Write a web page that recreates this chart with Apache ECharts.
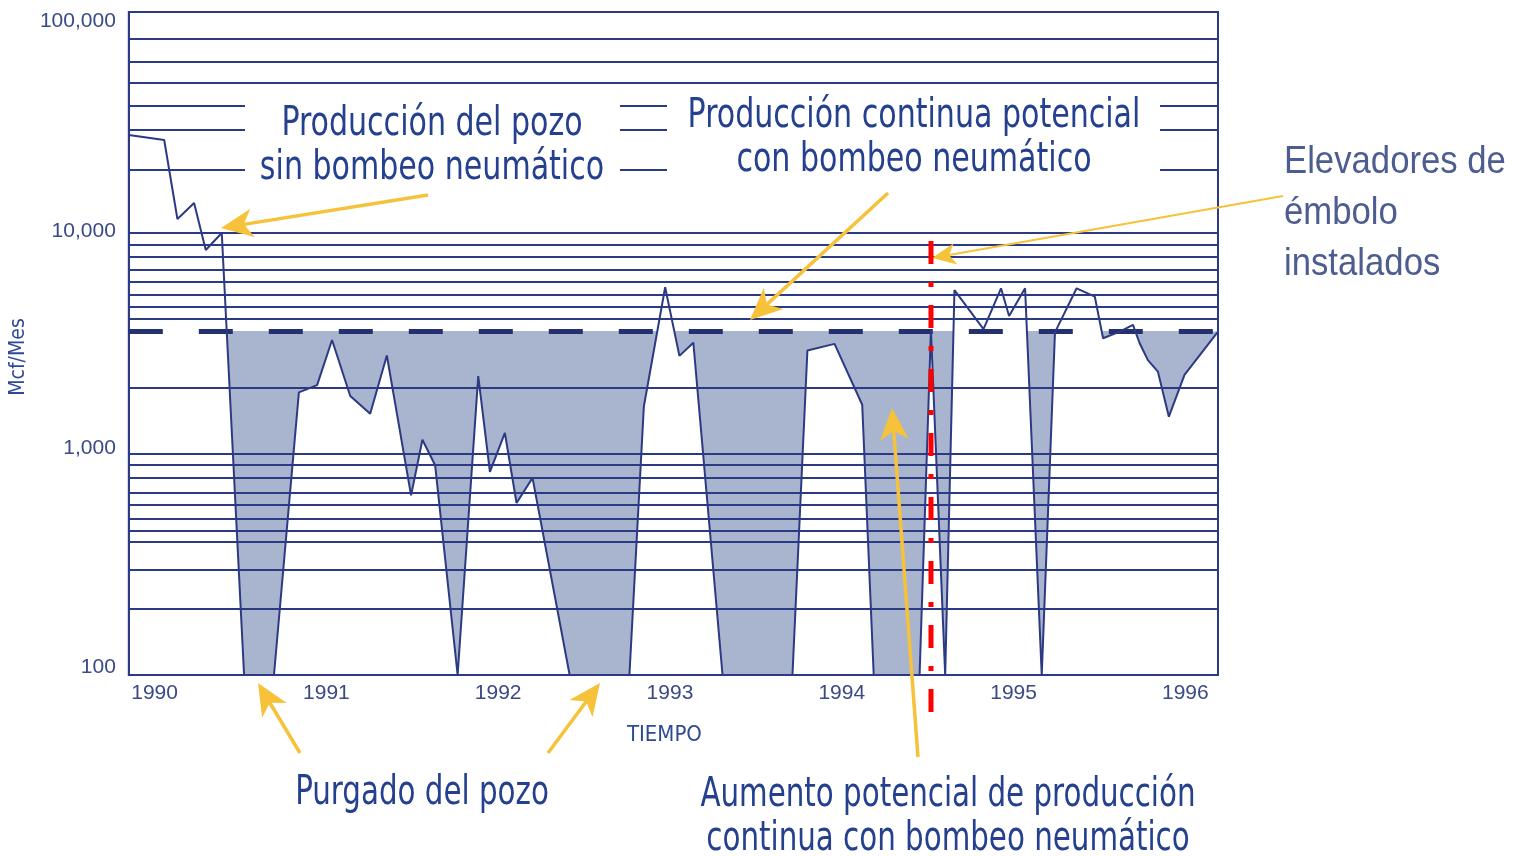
<!DOCTYPE html>
<html>
<head>
<meta charset="utf-8">
<script src="https://cdn.jsdelivr.net/npm/echarts@6/dist/echarts.min.js"></script>
<style>
  html, body { margin: 0; padding: 0; background: #fff; }
  #chart { width: 1519px; height: 856px; }
</style>
</head>
<body>
<div id="chart"></div>
<script>
// tiempo en años decimales y producción (Mcf/Mes)
const tiempo = [
  1989.85, 1990.056, 1990.133, 1990.230, 1990.298, 1990.391, 1990.521, 1990.695,
  1990.840, 1990.946, 1991.033, 1991.139, 1991.255, 1991.352, 1991.493, 1991.559,
  1991.633, 1991.764, 1991.884, 1991.952, 1992.039, 1992.107, 1992.200, 1992.416,
  1992.764, 1992.848, 1992.972, 1993.055, 1993.136, 1993.306, 1993.713, 1993.800,
  1993.958, 1994.119, 1994.186, 1994.453, 1994.519, 1994.602, 1994.656, 1994.825,
  1994.927, 1994.974, 1995.067, 1995.164, 1995.241, 1995.367, 1995.473, 1995.521,
  1995.618, 1995.695, 1995.734, 1995.782, 1995.840, 1995.904, 1995.995, 1996.19
];
const produccion = [
  27750, 26350, 11570, 13670, 8380, 10000, 100, 100,
  1900, 2050, 3280, 1830, 1520, 2790, 650, 1160,
  890, 100, 2250, 830, 1245, 600, 780, 100,
  100, 1640, 5680, 2780, 3190, 100, 100, 2940,
  3150, 1670, 100, 100, 3650, 100, 5520, 3670,
  5620, 4210, 5620, 100, 3550, 5620, 5150, 3340,
  3580, 3840, 3170, 2660, 2360, 1475, 2280, 3580
];
// producción continua potencial con bombeo neumático
const potencial = 3600;
const anios = [1990, 1991, 1992, 1993, 1994, 1995, 1996];
// líneas horizontales de la cuadrícula tal como están dibujadas
const lineasGuia = [
  200, 300, 400, 450, 510, 590, 670, 780, 890, 1000,
  2000, 4080, 4630, 5240, 6000, 6800, 7790, 8830, 10000,
  19300, 29200, 37500, 47700, 59400, 75500
];

const azul = '#2c3a84';
const relleno = '#a9b4cf';
const amarillo = '#f5c23a';
const textoAzul = '#24408f';
const etiqueta = '#3a4a85';
const condensada = '"DejaVu Sans Condensed", "Liberation Sans Narrow", sans-serif';
const normal = '"Liberation Sans", Arial, sans-serif';

const datos = tiempo.map((t, i) => [t, produccion[i]]);

// flecha amarilla: línea + punta
const flecha = (x1, y1, x2, y2, ancho, largo) => {
  const dx = x2 - x1, dy = y2 - y1;
  const d = Math.sqrt(dx * dx + dy * dy);
  const ux = dx / d, uy = dy / d;
  const nx = -uy, ny = ux;
  const w = largo * 0.45;
  const bx = x2 - ux * largo, by = y2 - uy * largo;
  const mx = x2 - ux * largo * 0.72, my = y2 - uy * largo * 0.72;
  return [
    { type: 'line', z: 60, shape: { x1: x1, y1: y1, x2: mx, y2: my },
      style: { stroke: amarillo, lineWidth: ancho } },
    { type: 'polygon', z: 60,
      shape: { points: [[x2, y2], [bx + nx * w, by + ny * w], [mx, my], [bx - nx * w, by - ny * w]] },
      style: { fill: amarillo } }
  ];
};

// texto estrecho: se escala en horizontal
const texto = (t, x, y, size, opts, escala) => ({
  type: 'text', z: 70, x: x, y: y, scaleX: escala || 0.815,
  style: Object.assign({
    text: t, x: 0, y: 0, fontSize: size, fontFamily: condensada, fill: textoAzul,
    align: 'center', verticalAlign: 'middle', lineHeight: 44
  }, opts || {})
});

const chart = echarts.init(document.getElementById('chart'));

const desplazamiento = { 100: [0, 0, 16, 0], 1000: [0, 0, 12, 0], 10000: [0, 0, 4, 0], 100000: [18, 0, 0, 0] };

const option = {
  backgroundColor: '#fff',
  animation: false,
  grid: { left: 126, right: 301, top: 12, bottom: 181, show: true, borderColor: azul, borderWidth: 2 },
  xAxis: {
    type: 'value', min: 1989.85, max: 1996.19,
    name: 'TIEMPO', nameLocation: 'middle', nameGap: 49,
    nameTextStyle: { fontFamily: condensada, fontSize: 22, color: '#2f4a95', padding: [0, 18, 0, 0] },
    axisLine: { lineStyle: { color: azul, width: 2 } },
    axisTick: { show: false },
    splitLine: { show: false },
    axisLabel: {
      customValues: anios, margin: 8, fontFamily: normal, fontSize: 21, color: etiqueta,
      formatter: v => String(v)
    }
  },
  yAxis: {
    type: 'log', logBase: 10, min: 100, max: 100000,
    name: 'Mcf/Mes', nameLocation: 'middle', nameGap: 89,
    nameTextStyle: { fontFamily: condensada, fontSize: 21, color: '#2f4a95', padding: [0, 27, 0, 0] },
    axisLine: { lineStyle: { color: azul, width: 2 } },
    axisTick: { show: false },
    splitLine: { show: false },
    axisLabel: {
      margin: 13, fontFamily: normal, fontSize: 21, color: etiqueta,
      formatter: v => {
        const n = Math.round(v);
        return '{p' + n + '|' + n.toLocaleString('en-US') + '}';
      },
      rich: Object.fromEntries(Object.keys(desplazamiento).map(k => [
        'p' + k, { fontFamily: normal, fontSize: 21, color: etiqueta, padding: desplazamiento[k] }
      ]))
    }
  },
  visualMap: {
    show: false, type: 'piecewise', seriesIndex: 0, dimension: 1,
    pieces: [
      { gte: 1, lt: potencial, color: relleno },
      { gte: potencial, lte: 1000000, color: 'rgba(255,255,255,0)' }
    ],
    outOfRange: { color: 'rgba(255,255,255,0)' }
  },
  series: [
    {
      name: 'Aumento potencial de producción',
      type: 'line', data: datos, z: 2,
      showSymbol: false, symbol: 'none',
      lineStyle: { width: 0, opacity: 0 },
      areaStyle: { origin: potencial, opacity: 1 },
      markLine: {
        silent: true, symbol: 'none', z: 5,
        label: { show: false },
        lineStyle: { color: azul, width: 2, type: 'solid' },
        data: lineasGuia.map(v => ({ yAxis: v }))
      }
    },
    {
      name: 'Producción continua potencial',
      type: 'line', data: [], z: 7,
      markLine: {
        silent: true, symbol: 'none', z: 7,
        label: { show: false },
        lineStyle: { color: '#25306e', width: 5, type: [34, 36] },
        data: [{ yAxis: potencial }]
      }
    },
    {
      name: 'Producción del pozo',
      type: 'line', data: datos, z: 8,
      showSymbol: false, symbol: 'none',
      lineStyle: { color: azul, width: 2 }
    }
  ],
  graphic: [
    { type: 'rect', z: 50, shape: { x: 245, y: 92, width: 375, height: 100 }, style: { fill: '#fff' } },
    { type: 'rect', z: 50, shape: { x: 667, y: 90, width: 493, height: 96 }, style: { fill: '#fff' } },
    texto('Producción del pozo\nsin bombeo neumático', 432, 146, 41),
    texto('Producción continua potencial\ncon bombeo neumático', 914, 138, 41),
    texto('Purgado del pozo', 422, 794, 40),
    texto('Aumento potencial de producción\ncontinua con bombeo neumático', 948, 818, 40),
    texto('Elevadores de\némbolo\ninstalados', 1284, 213, 39,
      { align: 'left', fill: '#4d5d8f', lineHeight: 51, fontFamily: normal }, 0.89),
    { type: 'line', z: 65, shape: { x1: 931, y1: 241, x2: 931, y2: 722 },
      style: { stroke: '#ff0000', lineWidth: 5, lineDash: [23, 18, 5, 18] } }
  ]
    .concat(flecha(428, 195, 221, 228, 3.5, 32))
    .concat(flecha(888, 193, 750, 320, 3.5, 32))
    .concat(flecha(1283, 196, 932, 258, 2, 24))
    .concat(flecha(300, 753, 258, 683, 3.5, 32))
    .concat(flecha(548, 753, 600, 683, 3.5, 32))
    .concat(flecha(918, 757, 892, 408, 3.5, 32))
};

chart.setOption(option);
</script>
</body>
</html>
